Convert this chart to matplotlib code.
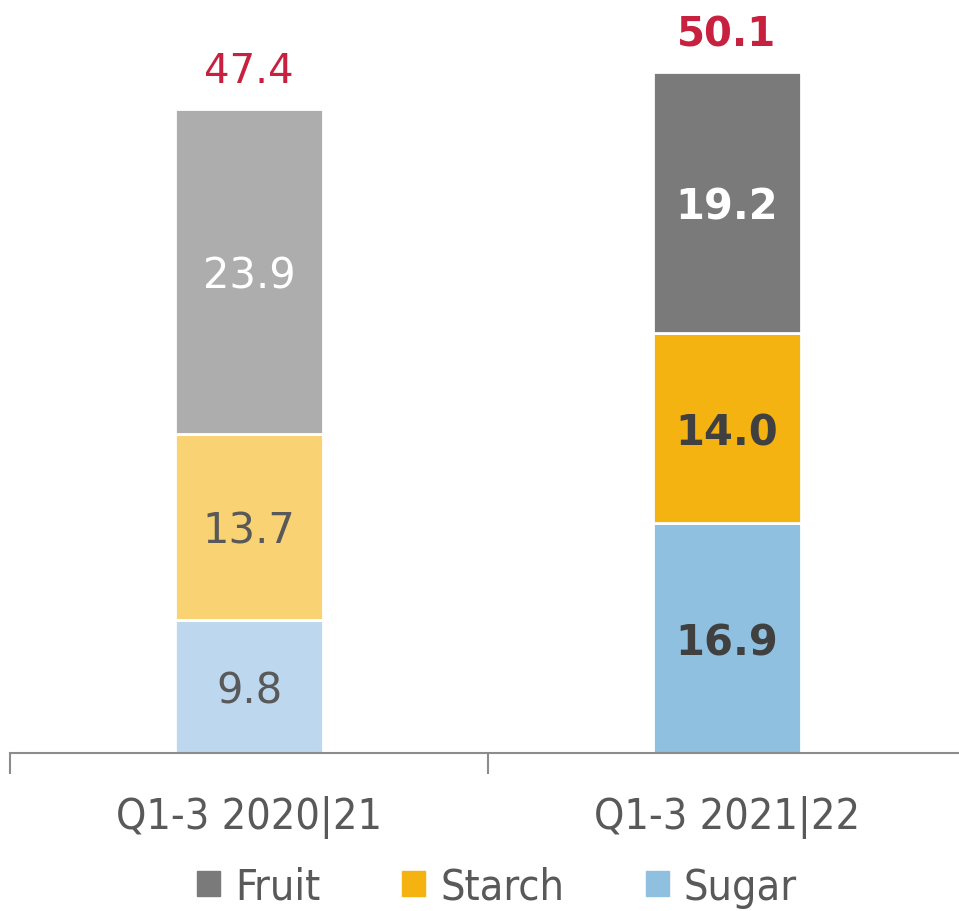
import matplotlib
matplotlib.use('Agg')
import matplotlib.pyplot as plt
from matplotlib.patches import Patch
from matplotlib.font_manager import FontProperties
import numpy as np

# data (million tonnes)
periods = ['Q1-3 2020|21', 'Q1-3 2021|22']
sugar = [9.8, 16.9]
starch = [13.7, 14.0]
fruit = [23.9, 19.2]
totals = [47.4, 50.1]

# colours per period: previous year lighter, current year full
sugar_col = ['#BDD7EE', '#8FC0E0']
starch_col = ['#F9D274', '#F5B312']
fruit_col = ['#ADADAD', '#7A7A7A']

narrow = FontProperties(family='DejaVu Sans', stretch='condensed', size=31)

fig = plt.figure(figsize=(9.59, 9.12), dpi=100)
ax = fig.add_axes([10 / 959, 158 / 912, 956 / 959, 747.5 / 912])

x = np.arange(len(periods))
w = 0.31
bottom = np.zeros(len(periods))
for vals, cols, name in [(sugar, sugar_col, 'Sugar'),
                         (starch, starch_col, 'Starch'),
                         (fruit, fruit_col, 'Fruit')]:
    ax.bar(x, vals, w, bottom=bottom, color=cols, edgecolor='white',
           linewidth=2)
    for i, v in enumerate(vals):
        if name == 'Fruit':
            tc = 'white'
        else:
            tc = '#595959' if i == 0 else '#404040'
        ax.text(x[i], bottom[i] + v / 2 - 0.3, '{:.1f}'.format(v),
                ha='center', va='center', fontsize=30, color=tc,
                fontweight='normal' if i == 0 else 'bold')
    bottom += np.array(vals)

# totals above each stack
for i, t in enumerate(totals):
    ax.text(x[i], t + 1.3, '{:.1f}'.format(t), ha='center', va='bottom',
            fontsize=29, color='#C8203F',
            fontweight='normal' if i == 0 else 'bold')

ax.set_xlim(-0.5, 1.5)
ax.set_ylim(0, 55)
for s in ['top', 'right', 'left']:
    ax.spines[s].set_visible(False)
ax.spines['bottom'].set_color('#8C8C8C')
ax.spines['bottom'].set_linewidth(1.5)
ax.set_yticks([])
ax.set_xticks([-0.5, 0.5, 1.5])
ax.set_xticklabels([])
ax.tick_params(axis='x', length=15, width=1.5, color='#8C8C8C')
ax.set_xticks(x, minor=True)
ax.set_xticklabels(periods, minor=True, fontproperties=narrow,
                   color='#595959')
ax.tick_params(axis='x', which='minor', length=0, pad=30)

handles = [Patch(color=fruit_col[1], label='Fruit'),
           Patch(color=starch_col[1], label='Starch'),
           Patch(color=sugar_col[1], label='Sugar')]
fig.legend(handles=handles, loc='center', bbox_to_anchor=(497 / 959, 1 - 888 / 912),
           ncol=3, frameon=False, prop=narrow,
           labelcolor='#595959', handlelength=0.53, handleheight=0.53,
           handletextpad=0.35, columnspacing=1.9)

fig.savefig('out.png', dpi=100)
